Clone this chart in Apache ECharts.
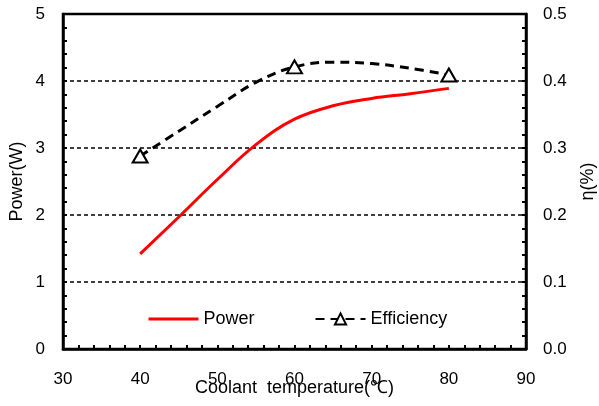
<!DOCTYPE html>
<html>
<head>
<meta charset="utf-8">
<script src="https://cdn.jsdelivr.net/npm/echarts@6/dist/echarts.min.js"></script>
<style>
  html, body { margin: 0; padding: 0; background: #fff; }
  #chart { width: 599px; height: 406px; }
</style>
</head>
<body>
<div id="chart"></div>
<script>
// values
const temps = [40, 45, 50, 55, 60, 65, 70, 75, 80];
const powerW = [1.42, 1.97, 2.53, 3.05, 3.43, 3.63, 3.74, 3.81, 3.89];
const efficiency = [0.288, 0.325, 0.362, 0.398, 0.421, 0.428, 0.426, 0.419, 0.409];
// measured points (drawn with triangles)
const markedTemps = [40, 60, 80];

const xTicks = { min: 30, max: 90, interval: 10 };
const powerTicks = { min: 0, max: 5, interval: 1 };
const effTicks = { min: 0, max: 0.5, interval: 0.1 };

const font = "Liberation Sans, Arial, sans-serif";
const chart = echarts.init(document.getElementById("chart"));

const axisCommon = {
  axisLine: { show: true, lineStyle: { color: "#000", width: 2.5 } },
  axisTick: { show: true, inside: true, length: 4, lineStyle: { color: "#000", width: 2 } },
  minorTick: { show: true, splitNumber: 5, length: 4, lineStyle: { color: "#000", width: 2 } },
  axisLabel: { color: "#000", fontSize: 17, fontFamily: font },
  nameTextStyle: { color: "#000", fontSize: 18, fontFamily: font },
  nameMoveOverlap: false,
};

chart.setOption({
  animation: false,
  grid: {
    left: 63, right: 73, top: 14, bottom: 57,
    outerBoundsMode: "none",
    show: true, borderColor: "#000", borderWidth: 2.5,
  },
  legend: {
    left: 142, top: 305,
    itemWidth: 50, itemHeight: 14, itemGap: 60,
    textStyle: { color: "#000", fontSize: 18, fontFamily: font },
    data: [
      { name: "Power", itemStyle: { opacity: 0 }, lineStyle: { width: 3 } },
      "Efficiency",
    ],
  },
  xAxis: {
    type: "value", ...xTicks,
    ...axisCommon,
    axisLabel: { ...axisCommon.axisLabel, margin: 22 },
    splitLine: { show: false },
    name: "Coolant  temperature(\u2103)",
    nameLocation: "middle", nameGap: 30,
  },
  yAxis: [
    {
      type: "value", ...powerTicks,
      ...axisCommon,
      axisLabel: { ...axisCommon.axisLabel, margin: 18 },
      splitLine: { show: true, lineStyle: { color: "#000", width: 1.5, type: [4, 3] } },
      name: "Power(W)", nameLocation: "middle", nameGap: 37,
    },
    {
      type: "value", ...effTicks,
      ...axisCommon,
      axisLabel: { ...axisCommon.axisLabel, margin: 17, formatter: (v) => v.toFixed(1) },
      splitLine: { show: false },
      name: "\u03b7(%)", nameLocation: "middle", nameGap: 53,
    },
  ],
  series: [
    {
      name: "Power",
      type: "line",
      smooth: 0.4,
      symbol: "none",
      yAxisIndex: 0,
      lineStyle: { color: "#ff0000", width: 3 },
      itemStyle: { color: "#ff0000" },
      data: temps.map((t, i) => [t, powerW[i]]),
    },
    {
      name: "Efficiency",
      type: "line",
      smooth: 0.4,
      yAxisIndex: 1,
      symbol: "triangle",
      symbolSize: [15, 13],
      lineStyle: { color: "#000", width: 3, type: [9, 6] },
      itemStyle: { color: "#fff", borderColor: "#000", borderWidth: 2 },
      data: temps.map((t, i) => ({
        value: [t, efficiency[i]],
        symbol: markedTemps.includes(t) ? "triangle" : "none",
      })),
    },
  ],
});
</script>
</body>
</html>
